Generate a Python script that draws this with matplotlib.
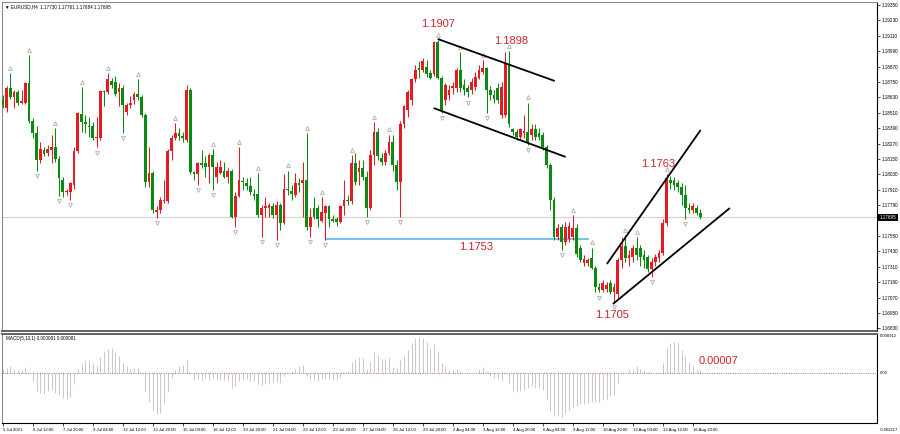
import matplotlib
matplotlib.use("Agg")
import matplotlib.pyplot as plt
import matplotlib.transforms as mtransforms
import numpy as np

plt.rcParams['font.family'] = ['Liberation Sans', 'DejaVu Sans']

# ---------------- data ----------------
symbol_title = "\u25BC EURUSD,H4  1.17730 1.17761 1.17684 1.17695"
macd_title = "MACD(5,10,1) 0.000081 0.000081"

opens = [1.1861, 1.1855, 1.1870, 1.1863, 1.1867, 1.1859, 1.1859, 1.1874, 1.1845, 1.1835,
         1.1814, 1.1822, 1.1820, 1.1822, 1.1824, 1.1815, 1.1799, 1.1789, 1.1789, 1.1795,
         1.1821, 1.1850, 1.1844, 1.1841, 1.1841, 1.1831, 1.1831, 1.1868, 1.1867, 1.1876,
         1.1875, 1.1867, 1.1870, 1.1852, 1.1857, 1.1861, 1.1866, 1.1863, 1.1849, 1.1797,
         1.1804, 1.1774, 1.1775, 1.1782, 1.1782, 1.1821, 1.1831, 1.1835, 1.1833, 1.1830,
         1.1869, 1.1805, 1.1803, 1.1812, 1.1812, 1.1809, 1.1818, 1.1801, 1.1804, 1.1806,
         1.1801, 1.1806, 1.1770, 1.1786, 1.1798, 1.1796, 1.1794, 1.1788, 1.1788, 1.1771,
         1.1777, 1.1777, 1.1778, 1.1771, 1.1779, 1.1765, 1.1792, 1.1790, 1.1787, 1.1796,
         1.1796, 1.1799, 1.1762, 1.1777, 1.1777, 1.1767, 1.1773, 1.1778, 1.1768, 1.1768,
         1.1766, 1.1778, 1.1783, 1.1782, 1.1812, 1.1805, 1.1808, 1.1801, 1.1777, 1.1818,
         1.1836, 1.1816, 1.1813, 1.1820, 1.1828, 1.1810, 1.1797, 1.1842, 1.1853, 1.1861,
         1.1877, 1.1886, 1.1884, 1.1887, 1.1882, 1.1881, 1.1906, 1.1878, 1.1861, 1.1865,
         1.1870, 1.1870, 1.1884, 1.1873, 1.1870, 1.1869, 1.1871, 1.1878, 1.1883, 1.1886,
         1.1869, 1.1865, 1.1870, 1.1849, 1.1849, 1.1889, 1.1838, 1.1836, 1.1832, 1.1835,
         1.1836, 1.1834, 1.1838, 1.1835, 1.1834, 1.1824, 1.1810, 1.1783, 1.1754, 1.1762,
         1.1750, 1.1753, 1.1754, 1.1761, 1.1746, 1.1734, 1.1734, 1.1738, 1.1730, 1.1715,
         1.1713, 1.1714, 1.1718, 1.1711, 1.1710, 1.1736, 1.1747, 1.1738, 1.1739, 1.1746,
         1.1746, 1.1740, 1.1739, 1.1729, 1.1735, 1.1738, 1.1742, 1.1765, 1.1799, 1.1799,
         1.1796, 1.1793, 1.1787, 1.1777, 1.1775, 1.1777, 1.17730]
highs = [1.1865, 1.1872, 1.1882, 1.1869, 1.1869, 1.1869, 1.1875, 1.1896, 1.1847, 1.1841,
         1.1828, 1.1824, 1.1826, 1.1834, 1.1839, 1.1817, 1.1801, 1.1792, 1.1797, 1.1824,
         1.1852, 1.1871, 1.1849, 1.1848, 1.1844, 1.1848, 1.1869, 1.1869, 1.1882, 1.1878,
         1.1880, 1.1874, 1.1873, 1.1859, 1.1864, 1.1867, 1.1877, 1.1865, 1.1851, 1.1824,
         1.1806, 1.1778, 1.1785, 1.1799, 1.1823, 1.1834, 1.1843, 1.1839, 1.1836, 1.1873,
         1.1870, 1.1806, 1.1813, 1.1822, 1.1817, 1.1820, 1.1823, 1.1813, 1.1814, 1.1813,
         1.1808, 1.1807, 1.1789, 1.1824, 1.1801, 1.1800, 1.1801, 1.1792, 1.1804, 1.1779,
         1.1785, 1.1781, 1.1781, 1.1782, 1.1781, 1.1803, 1.1806, 1.1795, 1.1804, 1.1800,
         1.1813, 1.1835, 1.1777, 1.1785, 1.1779, 1.1785, 1.1779, 1.1779, 1.1771, 1.1770,
         1.1779, 1.1799, 1.1787, 1.1818, 1.1820, 1.1814, 1.1814, 1.1806, 1.1822, 1.1844,
         1.1839, 1.1820, 1.1822, 1.1834, 1.1834, 1.1814, 1.1845, 1.1857, 1.1869, 1.1878,
         1.1888, 1.1891, 1.1894, 1.1892, 1.1884, 1.1907, 1.1908, 1.1880, 1.1874, 1.1873,
         1.1875, 1.1886, 1.1898, 1.1877, 1.1873, 1.1878, 1.1883, 1.1888, 1.1892, 1.1887,
         1.1872, 1.1869, 1.1874, 1.1875, 1.1898, 1.1899, 1.1839, 1.1838, 1.1839, 1.1849,
         1.1859, 1.1842, 1.1842, 1.1839, 1.1836, 1.1826, 1.1812, 1.1785, 1.1764, 1.1764,
         1.1766, 1.1766, 1.1771, 1.1764, 1.1748, 1.1740, 1.1738, 1.1746, 1.1732, 1.1718,
         1.1721, 1.1719, 1.1721, 1.1718, 1.1738, 1.1754, 1.1756, 1.1744, 1.1748, 1.1754,
         1.1748, 1.1744, 1.1740, 1.1738, 1.1741, 1.1744, 1.1768, 1.1803, 1.1802, 1.1801,
         1.1799, 1.1796, 1.1795, 1.1781, 1.1781, 1.1779, 1.17761]
lows = [1.1855, 1.1852, 1.1862, 1.1855, 1.1857, 1.1858, 1.1858, 1.1843, 1.1831, 1.1806,
        1.1812, 1.1817, 1.1817, 1.1812, 1.1813, 1.1786, 1.1785, 1.1787, 1.1783, 1.1792,
        1.1820, 1.1836, 1.1835, 1.1832, 1.1830, 1.1824, 1.1830, 1.1856, 1.1866, 1.1870,
        1.1864, 1.1856, 1.1835, 1.1849, 1.1855, 1.1858, 1.1861, 1.1848, 1.1793, 1.1793,
        1.1773, 1.1769, 1.1773, 1.1781, 1.1781, 1.1814, 1.1830, 1.1830, 1.1828, 1.1828,
        1.1803, 1.1799, 1.1795, 1.1808, 1.1801, 1.1796, 1.1791, 1.1796, 1.1803, 1.1800,
        1.1796, 1.1769, 1.1762, 1.1785, 1.1791, 1.1791, 1.1787, 1.1783, 1.1770, 1.1754,
        1.1770, 1.1770, 1.1769, 1.1752, 1.1760, 1.1764, 1.1787, 1.1783, 1.1785, 1.1789,
        1.1770, 1.1760, 1.1754, 1.1768, 1.1762, 1.1766, 1.1752, 1.1762, 1.1766, 1.1763,
        1.1765, 1.1771, 1.1779, 1.1780, 1.1795, 1.1795, 1.1799, 1.1770, 1.1775, 1.1810,
        1.1814, 1.1810, 1.1810, 1.1818, 1.1806, 1.1791, 1.1770, 1.1839, 1.1848, 1.1857,
        1.1875, 1.1878, 1.1883, 1.1879, 1.1877, 1.1880, 1.1877, 1.1851, 1.1857, 1.1861,
        1.1866, 1.1867, 1.1867, 1.1865, 1.1863, 1.1866, 1.1869, 1.1877, 1.1881, 1.1851,
        1.1861, 1.1859, 1.1859, 1.1847, 1.1848, 1.1840, 1.1834, 1.1830, 1.1830, 1.1831,
        1.1826, 1.1830, 1.1830, 1.1830, 1.1822, 1.1808, 1.1775, 1.1752, 1.1752, 1.1744,
        1.1748, 1.1750, 1.1752, 1.1739, 1.1735, 1.1732, 1.1732, 1.1729, 1.1711, 1.1711,
        1.1711, 1.1711, 1.1710, 1.1704, 1.1707, 1.1730, 1.1735, 1.1732, 1.1735, 1.1736,
        1.1732, 1.1730, 1.1727, 1.1723, 1.1732, 1.1735, 1.1740, 1.1763, 1.1792, 1.1791,
        1.1789, 1.1779, 1.1768, 1.1773, 1.1773, 1.1771, 1.17684]
closes = [1.1857, 1.1870, 1.1863, 1.1867, 1.1859, 1.1860, 1.1874, 1.1845, 1.1835, 1.1814,
          1.1823, 1.1819, 1.1823, 1.1824, 1.1815, 1.1800, 1.1789, 1.1790, 1.1796, 1.1821,
          1.1851, 1.1844, 1.1842, 1.1840, 1.1831, 1.1832, 1.1868, 1.1867, 1.1877, 1.1873,
          1.1866, 1.1870, 1.1857, 1.1857, 1.1859, 1.1866, 1.1863, 1.1849, 1.1797, 1.1804,
          1.1775, 1.1775, 1.1783, 1.1783, 1.1821, 1.1831, 1.1835, 1.1833, 1.1831, 1.1869,
          1.1805, 1.1803, 1.1812, 1.1810, 1.1809, 1.1818, 1.1809, 1.1809, 1.1809, 1.1801,
          1.1806, 1.1770, 1.1786, 1.1799, 1.1797, 1.1794, 1.1789, 1.1786, 1.1771, 1.1777,
          1.1778, 1.1779, 1.1771, 1.1779, 1.1765, 1.1792, 1.1791, 1.1788, 1.1796, 1.1795,
          1.1799, 1.1762, 1.1770, 1.1770, 1.1768, 1.1774, 1.1778, 1.1768, 1.1767, 1.1766,
          1.1778, 1.1783, 1.1782, 1.1812, 1.1797, 1.1808, 1.1801, 1.1777, 1.1818, 1.1836,
          1.1817, 1.1813, 1.1820, 1.1828, 1.1810, 1.1797, 1.1842, 1.1856, 1.1867, 1.1877,
          1.1884, 1.1884, 1.1891, 1.1881, 1.1878, 1.1906, 1.1878, 1.1853, 1.1873, 1.1869,
          1.1872, 1.1884, 1.1870, 1.1869, 1.1867, 1.1875, 1.1879, 1.1884, 1.1886, 1.1869,
          1.1865, 1.1862, 1.1861, 1.1871, 1.1890, 1.1842, 1.1836, 1.1832, 1.1838, 1.1837,
          1.1828, 1.1838, 1.1832, 1.1832, 1.1824, 1.1810, 1.1783, 1.1754, 1.1761, 1.1750,
          1.1762, 1.1763, 1.1761, 1.1741, 1.1736, 1.1737, 1.1736, 1.1730, 1.1715, 1.1713,
          1.1718, 1.1717, 1.1711, 1.1715, 1.1736, 1.1747, 1.1738, 1.1740, 1.1746, 1.1740,
          1.1739, 1.1736, 1.1729, 1.1735, 1.1739, 1.1742, 1.1765, 1.1800, 1.1796, 1.1795,
          1.1793, 1.1787, 1.1777, 1.1775, 1.1778, 1.1773, 1.17695]

macd_hist = [0.00007, 0.000087, 0.000117, 0.00007, 0.000058, 0.000047, 0.0001, -0.000012, -0.000146, -0.00032,
             -0.00035, -0.00036, -0.00032, -0.0003, -0.00035, -0.00038, -0.00044, -0.00045, -0.00042, -0.0002,
             0.00007, 0.000175, 0.00022, 0.00022, 0.000175, 0.000117, 0.00028, 0.00036, 0.00042, 0.00044,
             0.00037, 0.0003, 0.000175, 0.000117, 0.00007, 0.000087, 0.000087, -0.000012, -0.00032, -0.0005,
             -0.00067, -0.00071, -0.0007, -0.00052, -0.00032, -0.000087, 0.000058, 0.000117, 0.000146, 0.00023,
             -0.000012, -0.000117, -0.000105, -0.000117, -0.000087, -0.000117, -0.000087, -0.000117, -0.000117, -0.000117,
             -0.000146, -0.00026, -0.00023, -0.000146, -0.000117, -0.000105, -0.000146, -0.000146, -0.0002, -0.000216,
             -0.000187, -0.000175, -0.000175, -0.000163, -0.000175, -0.000058, -0.000012, 0.000029, 0.00007, 0.000128,
             0.000146, -0.000058, -0.000117, -0.000128, -0.000146, -0.000105, -0.000105, -0.000105, -0.000117, -0.000128,
             -0.000087, -0.000012, 0.000029, 0.0002, 0.000245, 0.00028, 0.00026, 0.00007, 0.0002, 0.00036,
             0.00032, 0.000245, 0.000245, 0.00026, 0.0001, 0.000087, 0.00022, 0.0003, 0.0004, 0.00052,
             0.00061, 0.00063, 0.00061, 0.00055, 0.00044, 0.00051, 0.00038, 0.000175, 0.000117, 0.000058,
             0.000058, 0.00007, 0.000029, 0.000006, 0.000006, -0.000006, 0.000006, 0.00007, 0.000105, 0.000029,
             -0.000047, -0.000087, -0.000105, -0.000146, -0.000012, -0.000175, -0.00029, -0.00034, -0.00032, -0.00029,
             -0.00026, -0.00023, -0.00026, -0.00026, -0.00029, -0.00047, -0.00067, -0.00073, -0.00076, -0.00079,
             -0.0007, -0.00064, -0.0006, -0.00057, -0.00055, -0.00055, -0.00052, -0.0005, -0.0005, -0.0005,
             -0.00047, -0.00045, -0.00041, -0.00038, -0.000175, -0.000012, 0.000006, 0.000047, 0.00007, 0.000117,
             0.00007, 0.000047, 0.000012, -0.000006, 0.000006, 0.000012, 0.000175, 0.00044, 0.00052, 0.00055,
             0.00054, 0.00041, 0.00029, 0.000187, 0.000128, 0.00007, 0.000047]

fractal_up = [2, 7, 14, 21, 28, 36, 46, 56, 63, 68, 76, 81, 85, 93, 99, 103,
              116, 122, 128, 135, 140, 152, 157, 166, 169, 177]
fractal_down = [9, 15, 18, 25, 32, 41, 52, 56, 62, 69, 73, 82, 86, 97, 106,
                117, 124, 129, 140, 149, 159, 163, 173, 182]

price_ticks = [1.19350, 1.19230, 1.19110, 1.18990, 1.18870, 1.18750, 1.18630,
               1.18510, 1.18390, 1.18270, 1.18150, 1.18030, 1.17910, 1.17790,
               1.17550, 1.17430, 1.17310, 1.17190, 1.17070, 1.16950, 1.16830]
current_price = 1.17695

x_tick_bars = list(range(0, 185, 8))
x_tick_labels = ["5 Jul 2021", "6 Jul 12:00", "7 Jul 20:00", "9 Jul 04:00",
                 "12 Jul 12:00", "13 Jul 20:00", "15 Jul 04:00", "16 Jul 12:00",
                 "19 Jul 20:00", "21 Jul 04:00", "22 Jul 12:00", "23 Jul 20:00",
                 "27 Jul 04:00", "28 Jul 12:00", "29 Jul 20:00", "2 Aug 04:00",
                 "3 Aug 12:00", "4 Aug 20:00", "6 Aug 04:00", "9 Aug 12:00",
                 "10 Aug 20:00", "12 Aug 04:00", "13 Aug 12:00", "16 Aug 20:00"]

# trend lines: (bar indices, prices)
channel_top_x, channel_top_y = [116.0, 147.2], [1.19085, 1.18758]
channel_bot_x, channel_bot_y = [114.9, 150.1], [1.18547, 1.18166]
wedge_top_x, wedge_top_y = [161.1, 186.1], [1.17332, 1.18376]
wedge_bot_x, wedge_bot_y = [162.7, 193.9], [1.17020, 1.17768]
support_x, support_level = [86.1, 156.0], 1.1753

price_notes = [("1.1907", 116.0, 1.19202), ("1.1898", 135.5, 1.19070),
               ("1.1753", 126.1, 1.17464), ("1.1763", 174.9, 1.18111),
               ("1.1705", 162.4, 1.16935)]
macd_note = ("0.00007", 190.9, 0.00021)
macd_axis_labels = ["0.000912", "0.00", "-0.002217"]

# ---------------- figure ----------------
W, H = 900, 434
fig = plt.figure(figsize=(W / 100, H / 100), dpi=100)
fig.patch.set_facecolor('white')

def fx(px):
    return px / W

def fy(py):
    return 1 - py / H

ax = fig.add_axes([fx(2), fy(331), fx(877) - fx(2), fy(2) - fy(331)])
ax2 = fig.add_axes([fx(2), fy(423), fx(877) - fx(2), fy(334) - fy(423)], sharex=ax)

UP = '#e31b23'
DN = '#0b8a12'
SMALL = 3.3

o = np.array(opens); h = np.array(highs); l = np.array(lows); c = np.array(closes)
idx = np.arange(len(o))
cols = np.where(c >= o, UP, DN)

ax.vlines(idx, l, h, colors=cols, linewidth=0.75, zorder=3)
body = c - o
minh = 0.00008
body = np.where(np.abs(body) < minh, minh, body)
ax.bar(idx, body, bottom=o, width=0.72, color=cols, linewidth=0, zorder=4)

# fractals
off = 0.0004
fu = np.array(fractal_up); fd = np.array(fractal_down)
ax.plot(fu, h[fu] + off, linestyle='none', marker='^', ms=2.8, mfc='none',
        mec='#a8a8a8', mew=0.55, zorder=2)
ax.plot(fd, l[fd] - off, linestyle='none', marker='v', ms=2.8, mfc='none',
        mec='#a8a8a8', mew=0.55, zorder=2)

# current price line
ax.axhline(current_price, color='#d2d2d2', lw=0.8, zorder=1)

# support line
ax.plot(support_x, [support_level, support_level], color='#5db8e8', lw=1.2, zorder=2)

# trend lines
for xs, ys in [(channel_top_x, channel_top_y), (channel_bot_x, channel_bot_y),
               (wedge_top_x, wedge_top_y), (wedge_bot_x, wedge_bot_y)]:
    ax.plot(xs, ys, color='black', lw=1.3, zorder=5, solid_capstyle='butt')

note_color = '#c8262c'
for txt, xb, yp in price_notes:
    ax.text(xb, yp, txt, color=note_color, fontsize=8, ha='center', va='center', zorder=6)

ax.set_xlim(-0.2, (877 - 2) / 3.75 - 0.2)
ax.set_ylim(1.168097, 1.193734)

ax.yaxis.tick_right()
ax.set_yticks(price_ticks)
ax.set_yticklabels([f"{v:.5f}" for v in price_ticks])
ax.tick_params(axis='y', direction='out', length=2.5, width=0.5, labelsize=SMALL,
               pad=1.0, colors='black')
ax.tick_params(axis='x', bottom=False, labelbottom=False)

trans = mtransforms.blended_transform_factory(ax.transAxes, ax.transData)
ax.text(1.003, current_price, f"{current_price:.5f}", transform=trans, fontsize=SMALL,
        color='white', va='center', ha='left',
        bbox=dict(boxstyle='square,pad=0.25', fc='black', ec='none'), zorder=10,
        clip_on=False)

ax.text(0.003, 0.993, symbol_title, transform=ax.transAxes, fontsize=SMALL,
        va='top', ha='left', color='black')

for side in ['left', 'top']:
    ax.spines[side].set_color('#8c8c8c')
    ax.spines[side].set_linewidth(0.8)
ax.spines['right'].set_color('black'); ax.spines['right'].set_linewidth(0.8)
ax.spines['bottom'].set_color('#555555'); ax.spines['bottom'].set_linewidth(1.3)

# ---------------- MACD ----------------
mh = np.array(macd_hist)
ax2.vlines(np.arange(len(mh)), 0, mh, colors='#c8c8c8', linewidth=0.7, zorder=2)
ax2.axhline(0, color='#c05050', lw=0.6, linestyle=(0, (1.2, 1.6)), zorder=3)
ax2.set_ylim(-(423 - 373) * 0.0000175, (373 - 334) * 0.0000175)

ax2.text(macd_note[1], macd_note[2], macd_note[0], color=note_color, fontsize=8,
         ha='center', va='center')
ax2.text(0.004, 0.975, macd_title, transform=ax2.transAxes, fontsize=SMALL,
         va='top', ha='left')

ax2.set_yticks([])
t2 = mtransforms.blended_transform_factory(ax2.transAxes, ax2.transData)
ax2.text(1.003, (373 - 336) * 0.0000175, macd_axis_labels[0], transform=t2,
         fontsize=3.0, va='center', ha='left', clip_on=False)
ax2.text(1.003, 0.0, macd_axis_labels[1], transform=t2, fontsize=3.0,
         va='center', ha='left', clip_on=False)
ax2.text(1.003, -(430 - 373) * 0.0000175, macd_axis_labels[2], transform=t2,
         fontsize=3.0, va='center', ha='left', clip_on=False)

ax2.set_xticks(x_tick_bars)
ax2.set_xticklabels(x_tick_labels)
ax2.tick_params(axis='x', direction='out', length=2.5, width=0.5, labelsize=3.1, pad=1)
for lbl in ax2.get_xticklabels():
    lbl.set_ha('left')

ax2.spines['left'].set_color('#8c8c8c'); ax2.spines['left'].set_linewidth(0.8)
ax2.spines['top'].set_color('#555555'); ax2.spines['top'].set_linewidth(1.3)
ax2.spines['right'].set_color('black'); ax2.spines['right'].set_linewidth(0.8)
ax2.spines['bottom'].set_color('black'); ax2.spines['bottom'].set_linewidth(0.8)

fig.savefig('out.png', dpi=100, facecolor='white')
